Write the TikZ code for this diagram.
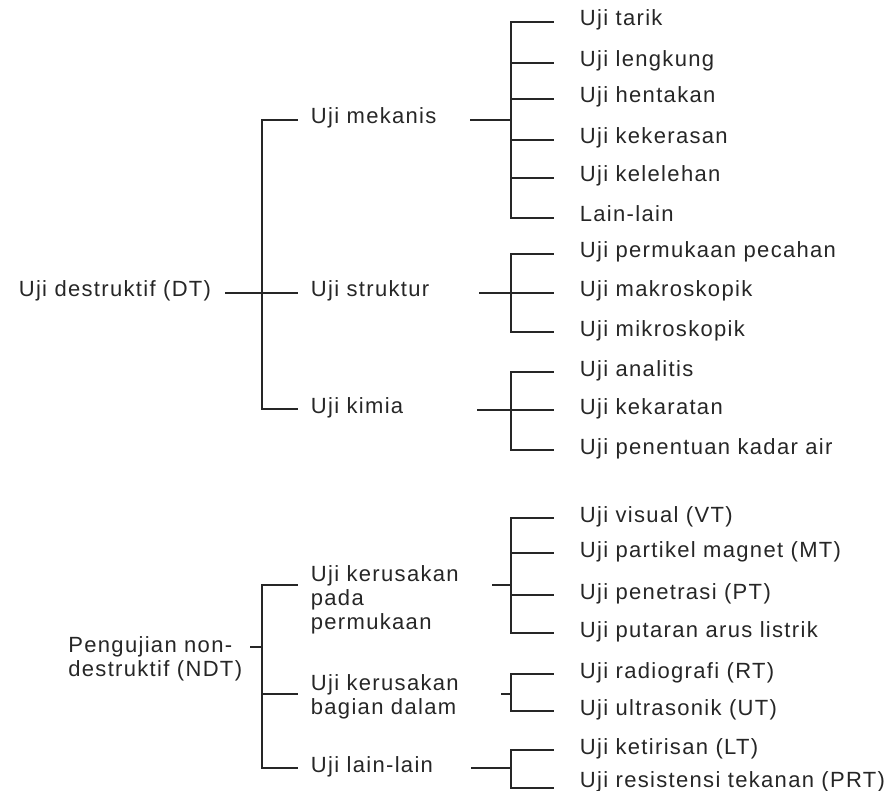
\documentclass[tikz,border=0pt]{standalone}
\usepackage{fontspec}
\setmainfont{Liberation Sans}[LetterSpace=6]
\usepackage{xcolor}
\usepackage{tikz}
\definecolor{ink}{HTML}{262626}

\begin{document}
\begin{tikzpicture}[
  x=1pt, y=-1pt, color=ink, line width=1.8pt,
  every node/.style={inner sep=0pt, align=left,
                     font=\fontsize{22}{24}\selectfont},
  oneline/.style={text height=15.8pt, text depth=7.8pt},
  leaf/.style={oneline, anchor=west, inner xsep=25pt},
  mid/.style={oneline, anchor=west, inner xsep=12pt},
  midtwo/.style={anchor=north west, inner xsep=12pt},
]
\useasboundingbox (0,0) rectangle (893,791);

\node[oneline, anchor=east, inner xsep=13pt] (dt) at (225,293) {Uji destruktif (DT)};
\coordinate (dtJ) at (262,293);
\node[mid] (mekanis)  at (298,120) {Uji mekanis};
\node[mid] (struktur) at (298,293) {Uji struktur};
\node[mid] (kimia)    at (298,409) {Uji kimia};
\draw (dt.east) -- (struktur.west);
\draw (dtJ) |- (mekanis.west);
\draw (dtJ) |- (kimia.west);

\node[anchor=north east, inner xsep=7pt] (ndt) at (250,635.2) {Pengujian non-\\destruktif (NDT)};
\coordinate (ndtS) at (250,647);
\coordinate (ndtJ) at (262,647);
\node[midtwo] (permukaan) at (298,564.2) {Uji kerusakan\\pada\\permukaan};
\node[midtwo] (dalam)     at (298,673.2) {Uji kerusakan\\bagian dalam};
\node[mid]    (lainlain)  at (298,768)   {Uji lain-lain};
\coordinate (surL) at (298,585);
\coordinate (dalL) at (298,694);
\draw (ndtS) -- (ndtJ);
\draw (ndtJ) |- (surL);
\draw (ndtJ) |- (dalL);
\draw (ndtJ) |- (lainlain.west);

\foreach \g/\s/\jy in {mek/470/120, str/479/293, kim/477/410,
                        sur/492/585, dal/501/694, lln/471/768} {
  \coordinate (\g S) at (\s,\jy);
  \coordinate (\g J) at (511,\jy);
  \draw (\g S) -- (\g J);
}

\foreach \g/\y/\txt in {mek/22/Uji tarik, mek/63/Uji lengkung, mek/99/Uji hentakan,
    mek/140/Uji kekerasan, mek/178/Uji kelelehan, mek/218/Lain-lain,
    str/254/Uji permukaan pecahan, str/293/Uji makroskopik, str/332/Uji mikroskopik,
    kim/372/Uji analitis, kim/410/Uji kekaratan, kim/450/Uji penentuan kadar air,
    sur/518/Uji visual (VT), sur/553/Uji partikel magnet (MT),
    sur/595/Uji penetrasi (PT), sur/633/Uji putaran arus listrik,
    dal/674/Uji radiografi (RT), dal/711/Uji ultrasonik (UT),
    lln/750/Uji ketirisan (LT)} {
  \node[leaf] (\g\y) at (554,\y) {\txt};
  \draw (\g J) |- (\g\y.west);
}
\node[leaf, text depth=17.8pt] (lln788) at (554,788) {Uji resistensi tekanan (PRT)};
\draw (llnJ) |- (lln788.west);
\end{tikzpicture}
\end{document}
